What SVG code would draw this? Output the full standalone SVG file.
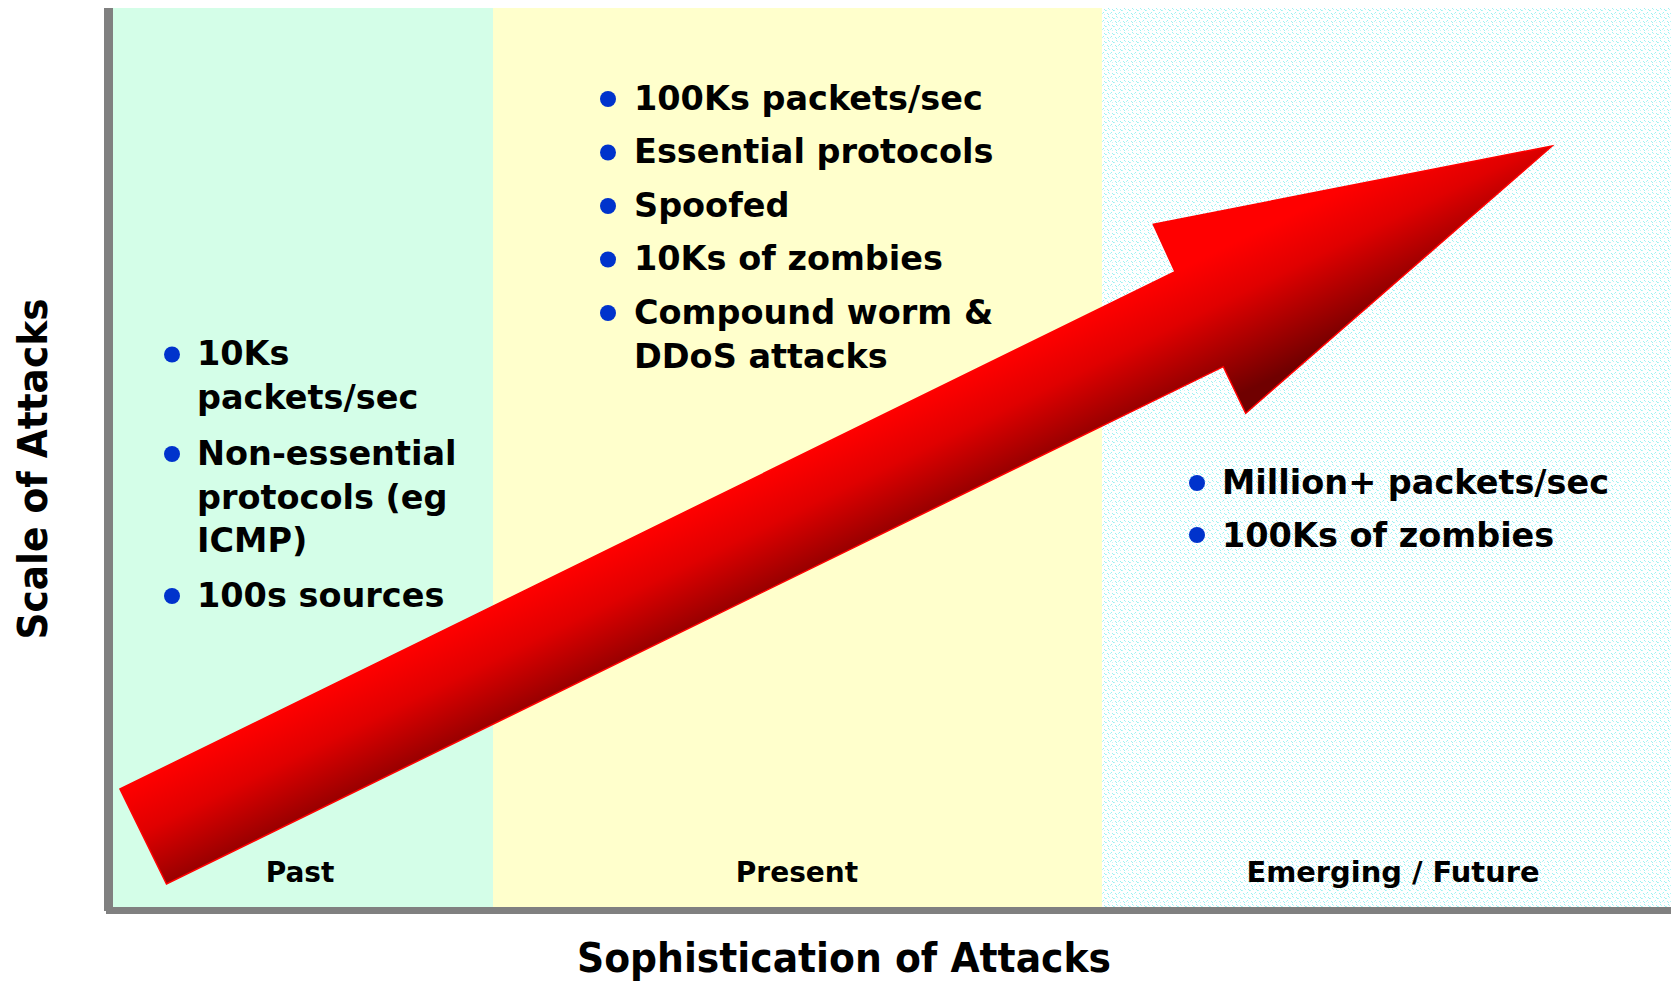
<svg xmlns="http://www.w3.org/2000/svg" width="1671" height="981" viewBox="0 0 1671 981">
  <style>
    .item { font-family: "DejaVu Sans", Verdana, sans-serif; font-weight: bold; font-size: 33.5px; fill: #000; }
    .era { font-family: "DejaVu Sans", Verdana, sans-serif; font-weight: bold; font-size: 28px; fill: #000; text-anchor: middle; }
    .title { font-family: "DejaVu Sans", Verdana, sans-serif; font-weight: bold; font-size: 41px; fill: #000; text-anchor: middle; }
    .dot { fill: #0033CC; }
    .axis { fill: #808080; }
  </style>
  <defs>
    <!-- speckled texture for the future band -->
    <pattern id="speckle" width="8" height="8" patternUnits="userSpaceOnUse">
      <rect width="8" height="8" fill="#FFFFFF"/>
      <rect x="0" y="1" width="1" height="1" fill="#9CF2F2"/>
      <rect x="1" y="2" width="1" height="1" fill="#9CF2F2"/>
      <rect x="2" y="2" width="1" height="1" fill="#B8F6F6"/>
      <rect x="4" y="0" width="1" height="1" fill="#9CF2F2"/>
      <rect x="5" y="1" width="1" height="1" fill="#B8F6F6"/>
      <rect x="3" y="5" width="1" height="1" fill="#9CF2F2"/>
      <rect x="4" y="6" width="1" height="1" fill="#9CF2F2"/>
      <rect x="6" y="5" width="1" height="1" fill="#B8F6F6"/>
      <rect x="7" y="4" width="1" height="1" fill="#9CF2F2"/>
      <rect x="0" y="6" width="1" height="1" fill="#C8F8F8"/>
    </pattern>
    <!-- shading across the arrow, bright on the top edge, dark on the lower side -->
    <linearGradient id="arrowShade" gradientUnits="userSpaceOnUse" x1="335" y1="683.3" x2="396.2" y2="808.1">
      <stop offset="0" stop-color="#FF0000"/>
      <stop offset="0.35" stop-color="#E00000"/>
      <stop offset="1" stop-color="#700000"/>
    </linearGradient>
  </defs>

  <rect width="1671" height="981" fill="#FFFFFF"/>

  <!-- era bands -->
  <g id="band-past"><rect x="113" y="8" width="380" height="900" fill="#D4FEE8"/></g>
  <g id="band-present"><rect x="493" y="8" width="609" height="900" fill="#FFFFCC"/></g>
  <g id="band-future"><rect x="1102" y="8" width="569" height="900" fill="url(#speckle)"/></g>

  <!-- axes -->
  <g id="axes">
    <rect class="axis" x="104" y="8" width="9" height="903"/>
    <rect class="axis" x="106" y="907" width="1565" height="7"/>
  </g>

  <!-- growth arrow -->
  <g id="connectors">
    <path d="M120,789 L1175,271.7 L1153.3,224.3 L1552,146 L1245.7,413.3 L1223.3,366.7 L166.5,884 Z"
          fill="url(#arrowShade)" stroke="#FF0000" stroke-width="1.5" stroke-linejoin="miter"/>
  </g>

  <!-- past -->
  <g id="past-items">
    <circle class="dot" cx="172" cy="354.5" r="8"/>
    <text class="item" x="197" y="365">10Ks</text>
    <text class="item" x="197" y="408.5">packets/sec</text>
    <circle class="dot" cx="172" cy="454" r="8"/>
    <text class="item" x="197" y="465">Non-essential</text>
    <text class="item" x="197" y="508.5">protocols (eg</text>
    <text class="item" x="197" y="552">ICMP)</text>
    <circle class="dot" cx="172" cy="596" r="8"/>
    <text class="item" x="197" y="607">100s sources</text>
  </g>

  <!-- present -->
  <g id="present-items">
    <circle class="dot" cx="608" cy="99" r="8"/>
    <text class="item" x="634" y="109.5">100Ks packets/sec</text>
    <circle class="dot" cx="608" cy="152.5" r="8"/>
    <text class="item" x="634" y="163">Essential protocols</text>
    <circle class="dot" cx="608" cy="206" r="8"/>
    <text class="item" x="634" y="216.5">Spoofed</text>
    <circle class="dot" cx="608" cy="259.5" r="8"/>
    <text class="item" x="634" y="270">10Ks of zombies</text>
    <circle class="dot" cx="608" cy="313" r="8"/>
    <text class="item" x="634" y="323.5">Compound worm &amp;</text>
    <text class="item" x="634" y="368">DDoS attacks</text>
  </g>

  <!-- emerging / future -->
  <g id="future-items">
    <circle class="dot" cx="1197" cy="483" r="8"/>
    <text class="item" x="1222" y="493.5">Million+ packets/sec</text>
    <circle class="dot" cx="1197" cy="535" r="8"/>
    <text class="item" x="1222" y="546.5">100Ks of zombies</text>
  </g>

  <!-- era labels -->
  <g id="era-labels">
    <text class="era" x="300" y="881.5">Past</text>
    <text class="era" x="797" y="881.5">Present</text>
    <text class="era" x="1393" y="881.5" textLength="293" lengthAdjust="spacingAndGlyphs">Emerging / Future</text>
  </g>

  <!-- axis titles -->
  <g id="axis-titles">
    <text class="title" x="844" y="972" textLength="534" lengthAdjust="spacingAndGlyphs">Sophistication of Attacks</text>
    <text class="title" transform="translate(47,469) rotate(-90)" textLength="341" lengthAdjust="spacingAndGlyphs">Scale of Attacks</text>
  </g>
</svg>
